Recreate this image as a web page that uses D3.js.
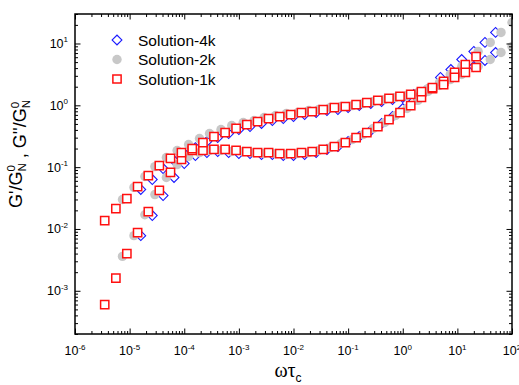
<!DOCTYPE html>
<html>
<head>
<meta charset="utf-8">
<script src="https://cdn.jsdelivr.net/npm/d3@7"></script>
<style>
  body { margin: 0; background: #fff; }
  text { font-family: Arial, "Liberation Sans", sans-serif; fill: #000; }
</style>
</head>
<body>
<svg id="chart" width="519" height="385"></svg>
<script>
// axis ranges
const xDomain = [1e-6, 1e2];
const yDomain = [2e-4, 30];

// Solution-4k (blue diamonds)
const freq4k = [1.6e-5, 2.6e-5, 4.1e-5, 6.5e-5, 1.0e-4, 1.6e-4, 2.6e-4, 4.1e-4, 6.5e-4, 1.0e-3,
  1.6e-3, 2.6e-3, 4.1e-3, 6.5e-3, 1.0e-2, 1.6e-2, 2.6e-2, 4.1e-2, 6.5e-2, 0.10,
  0.16, 0.26, 0.41, 0.65, 1.0, 1.6, 2.6, 4.9, 7.6, 12, 20, 32, 50];
const storage4k = [7.8e-3, 1.65e-2, 3.47e-2, 6.8e-2, 0.114, 0.154, 0.172, 0.179, 0.172, 0.166,
  0.166, 0.160, 0.160, 0.154, 0.154, 0.160, 0.172, 0.193, 0.215, 0.260,
  0.313, 0.391, 0.508, 0.659, 0.887, 1.20, 1.67, 2.82, 3.79, 5.51, 7.43, 10.4, 15.1];
const loss4k = [4.35e-2, 6.3e-2, 9.5e-2, 0.128, 0.166, 0.207, 0.260, 0.301, 0.350, 0.406,
  0.454, 0.508, 0.568, 0.611, 0.659, 0.710, 0.764, 0.824, 0.855, 0.921,
  0.99, 1.07, 1.15, 1.24, 1.34, 1.50, 1.73, 2.25, 2.82, 3.52, 4.24, 5.31, 7.14];

// Solution-2k (grey circles)
const freq2k = [7.4e-6, 1.2e-5, 1.9e-5, 2.9e-5, 4.7e-5, 7.4e-5, 1.2e-4, 1.9e-4, 2.9e-4, 4.7e-4,
  7.4e-4, 1.2e-3, 1.9e-3, 2.9e-3, 4.7e-3, 7.4e-3, 1.2e-2, 1.9e-2, 2.9e-2, 4.7e-2,
  7.4e-2, 0.12, 0.19, 0.29, 0.47, 0.74, 1.2, 1.9, 2.9, 4.7, 7.4, 12, 24, 40, 63, 100];
const storage2k = [3.6e-3, 7.8e-3, 1.7e-2, 3.6e-2, 6.8e-2, 0.110, 0.149, 0.172, 0.186, 0.186,
  0.179, 0.179, 0.172, 0.166, 0.166, 0.160, 0.166, 0.172, 0.186, 0.207,
  0.241, 0.280, 0.337, 0.422, 0.527, 0.684, 0.887, 1.20, 1.67, 2.34,
  3.15, 4.24, 7.43, 10.4, 15.1, 21.9];
const loss2k = [3.0e-2, 4.7e-2, 7.05e-2, 0.102, 0.143, 0.186, 0.232, 0.290, 0.350, 0.406,
  0.471, 0.527, 0.568, 0.635, 0.684, 0.736, 0.764, 0.824, 0.855, 0.921,
  0.957, 0.99, 1.07, 1.15, 1.24, 1.34, 1.44, 1.61, 1.87, 2.09,
  2.61, 3.15, 4.24, 5.51, 7.14, 8.94];

// Solution-1k (red squares)
const freq1k = [3.5e-6, 5.6e-6, 8.9e-6, 1.4e-5, 2.2e-5, 3.5e-5, 5.6e-5, 8.9e-5, 1.4e-4, 2.2e-4,
  3.5e-4, 5.6e-4, 8.9e-4, 1.4e-3, 2.2e-3, 3.5e-3, 5.6e-3, 8.9e-3, 1.4e-2, 2.2e-2,
  3.5e-2, 5.6e-2, 8.9e-2, 0.14, 0.22, 0.35, 0.56, 0.89, 1.4, 2.2, 3.5, 5.6, 8.9, 14, 22];
const storage1k = [6.0e-4, 1.6e-3, 4.0e-3, 8.7e-3, 1.9e-2, 4.2e-2, 8.2e-2, 0.133, 0.186, 0.186,
  0.193, 0.193, 0.186, 0.179, 0.172, 0.172, 0.166, 0.166, 0.172, 0.179,
  0.193, 0.215, 0.250, 0.301, 0.363, 0.454, 0.589, 0.764, 0.99, 1.34,
  1.87, 2.43, 3.40, 4.57, 6.16];
const loss1k = [1.37e-2, 2.14e-2, 3.1e-2, 4.85e-2, 7.3e-2, 0.106, 0.138, 0.172, 0.20, 0.25,
  0.313, 0.363, 0.422, 0.489, 0.547, 0.611, 0.659, 0.710, 0.764, 0.794,
  0.855, 0.921, 0.957, 1.03, 1.11, 1.20, 1.29, 1.39, 1.50, 1.67,
  1.94, 2.17, 2.82, 3.40, 4.09];

const seriesNames = ["Solution-4k", "Solution-2k", "Solution-1k"];
const seriesMarkers = ["diamond", "circle", "square"];

const width = 519, height = 385;
const margin = { left: 75, right: 7, top: 14, bottom: 51 };
const boundWidth = width - margin.left - margin.right;
const boundHeight = height - margin.top - margin.bottom;

const svg = d3.select("#chart");
svg.append("rect").attr("width", width).attr("height", height).attr("fill", "#fff");

const bounds = svg.append("g").attr("transform", `translate(${margin.left}, ${margin.top})`);

const xScale = d3.scaleLog().domain(xDomain).range([0, boundWidth]);
const yScale = d3.scaleLog().domain(yDomain).range([boundHeight, 0]);

const isMajor = v => Math.abs(Math.log10(v) - Math.round(Math.log10(v))) < 1e-6;

function drawMarker(g, kind) {
  if (kind === "circle") {
    g.append("circle").attr("r", 4.7).attr("fill", "#c8c8c8");
  } else if (kind === "square") {
    g.append("path")
      .attr("d", d3.symbol(d3.symbolSquare, 68)())
      .attr("fill", "#fff")
      .attr("stroke", "#ff1010")
      .attr("stroke-width", 1.5);
  } else {
    g.append("path")
      .attr("d", d3.symbol(d3.symbolSquare, 48)())
      .attr("transform", "rotate(45)")
      .attr("fill", "#fff")
      .attr("stroke", "#1a1aff")
      .attr("stroke-width", 1.1);
  }
}

function createAxes() {
  const xTicks = xScale.ticks();
  const yTicks = yScale.ticks();
  const xMajor = xTicks.filter(isMajor), xMinor = xTicks.filter(v => !isMajor(v));
  const yMajor = yTicks.filter(isMajor), yMinor = yTicks.filter(v => !isMajor(v));

  const sides = [
    { gen: d3.axisBottom, scale: xScale, t: `translate(0, ${boundHeight})`, major: xMajor, minor: xMinor },
    { gen: d3.axisTop, scale: xScale, t: "translate(0, 0)", major: xMajor, minor: xMinor },
    { gen: d3.axisLeft, scale: yScale, t: "translate(0, 0)", major: yMajor, minor: yMinor },
    { gen: d3.axisRight, scale: yScale, t: `translate(${boundWidth}, 0)`, major: yMajor, minor: yMinor }
  ];

  sides.forEach(s => {
    [[s.minor, -3], [s.major, -5.5]].forEach(([vals, size]) => {
      const g = bounds.append("g")
        .attr("transform", s.t)
        .call(s.gen(s.scale).tickValues(vals).tickSizeInner(size).tickSizeOuter(0).tickFormat(""));
      g.select(".domain").remove();
      g.selectAll(".tick line").attr("stroke", "#000").attr("stroke-width", 1);
    });
  });

  // frame
  bounds.append("rect")
    .attr("width", boundWidth)
    .attr("height", boundHeight)
    .attr("fill", "none")
    .attr("stroke", "#000")
    .attr("stroke-width", 1.5);

  // tick labels with superscript exponents
  xMajor.forEach(v => {
    const t = bounds.append("text")
      .attr("x", xScale(v))
      .attr("y", boundHeight + 21)
      .attr("text-anchor", "middle")
      .attr("font-size", 12.5);
    t.append("tspan").text("10");
    t.append("tspan").attr("font-size", 8).attr("dy", -5.5).text(Math.round(Math.log10(v)));
  });
  yMajor.forEach(v => {
    const t = bounds.append("text")
      .attr("x", -7)
      .attr("y", yScale(v) + 4.5)
      .attr("text-anchor", "end")
      .attr("font-size", 12.5);
    t.append("tspan").text("10");
    t.append("tspan").attr("font-size", 8).attr("dy", -5.5).text(Math.round(Math.log10(v)));
  });
}

function drawScatterPoints() {
  bounds.append("clipPath").attr("id", "plot-clip")
    .append("rect").attr("width", boundWidth).attr("height", boundHeight);
  const plot = bounds.append("g").attr("clip-path", "url(#plot-clip)");

  const sets = [
    { freq: freq4k, storage: storage4k, loss: loss4k, marker: seriesMarkers[0] },
    { freq: freq2k, storage: storage2k, loss: loss2k, marker: seriesMarkers[1] },
    { freq: freq1k, storage: storage1k, loss: loss1k, marker: seriesMarkers[2] }
  ];

  sets.forEach(s => {
    const points = s.freq.flatMap((w, i) => [[w, s.storage[i]], [w, s.loss[i]]]);
    plot.append("g").selectAll("g")
      .data(points)
      .join("g")
      .attr("transform", d => `translate(${xScale(d[0])}, ${yScale(d[1])})`)
      .each(function () { drawMarker(d3.select(this), s.marker); });
  });
}

function drawLegend() {
  const legend = svg.append("g");
  seriesNames.forEach((name, i) => {
    const y = 40 + i * 19.5;
    const g = legend.append("g").attr("transform", `translate(117, ${y})`);
    drawMarker(g, seriesMarkers[i]);
    legend.append("text")
      .attr("x", 138)
      .attr("y", y + 5.5)
      .attr("font-size", 15.5)
      .text(name);
  });
}

function drawTitles() {
  // y title: G'/G0N , G''/G0N
  const yt = svg.append("text")
    .attr("transform", "translate(22, 154) rotate(-90)")
    .attr("text-anchor", "middle")
    .attr("font-size", 18);
  [["G'/G", "0", "N"], [" , G''/G", "0", "N"]].forEach(([main, sup, sub]) => {
    yt.append("tspan").text(main);
    yt.append("tspan").attr("font-size", 11.5).attr("dy", -7.5).text(sup);
    yt.append("tspan").attr("font-size", 11.5).attr("dx", -6.4).attr("dy", 11.5).text(sub);
    yt.append("tspan").attr("font-size", 18).attr("dy", -4).text("");
  });

  const xt = svg.append("text")
    .attr("x", 288)
    .attr("y", 377)
    .attr("text-anchor", "middle");
  xt.append("tspan").attr("font-family", "'Liberation Serif', 'Times New Roman', serif").attr("font-size", 20).text("ωτ");
  xt.append("tspan").attr("font-size", 12).attr("dy", 5).text("c");
}

drawScatterPoints();
createAxes();
drawLegend();
drawTitles();
</script>
</body>
</html>
